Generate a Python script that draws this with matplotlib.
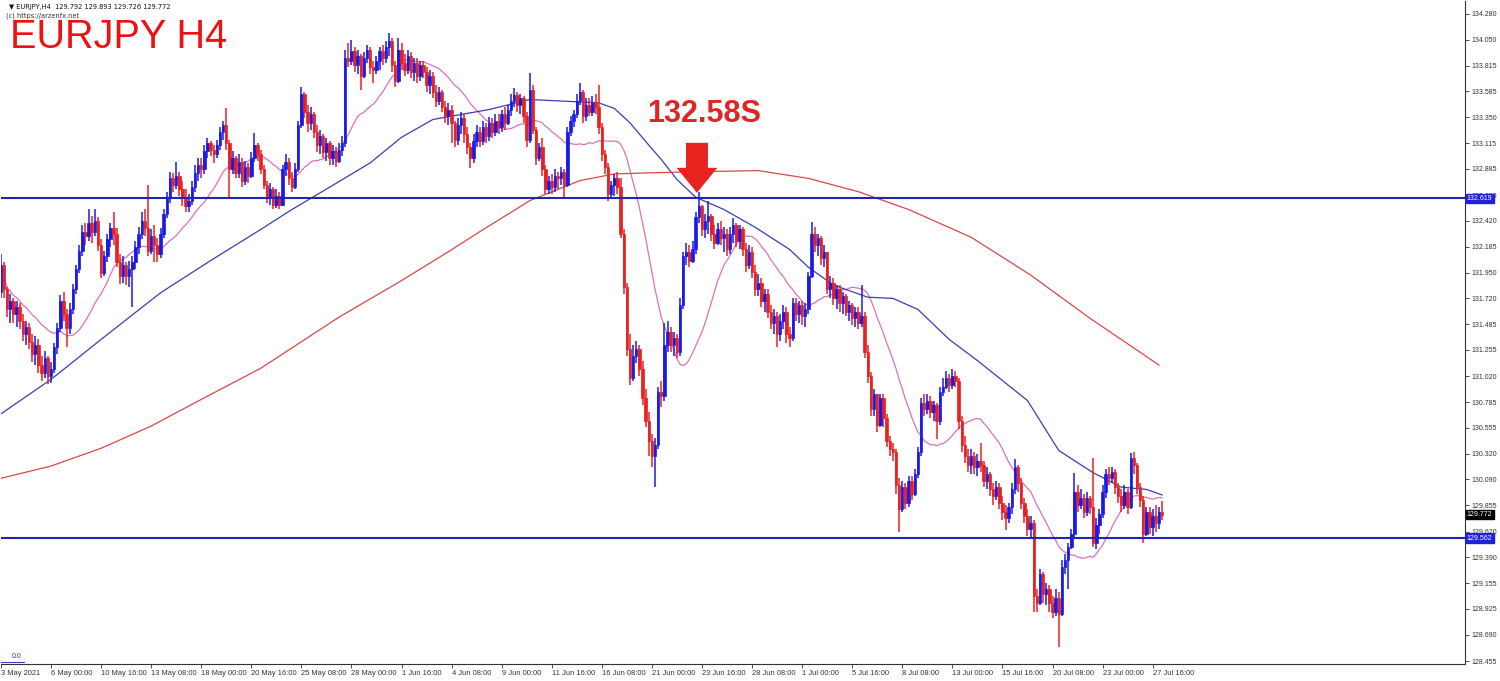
import numpy as np
import pandas as pd
import matplotlib
matplotlib.use("Agg")
import matplotlib.pyplot as plt
from matplotlib.transforms import blended_transform_factory
from matplotlib.patches import FancyArrow

# ---------------- EURJPY H4 price data (3 May 08:00 .. 28 Jul 2021) ----------------
first_open = 131.78
closes = [
 132.02,131.80,131.62,131.70,131.58,131.64,131.52,131.40,131.46,131.33,
 131.22,131.30,131.12,131.05,131.18,131.02,131.08,131.28,131.45,131.70,
 131.58,131.45,131.62,131.80,131.98,132.15,132.32,132.28,132.40,132.32,
 132.42,132.20,131.95,132.10,132.25,132.35,132.30,132.05,131.92,132.02,
 131.92,131.98,132.05,132.18,132.30,132.42,132.35,132.15,132.28,132.20,
 132.12,132.30,132.48,132.62,132.80,132.74,132.82,132.70,132.62,132.55,
 132.60,132.72,132.85,132.92,132.88,133.05,133.12,133.06,133.02,133.10,
 133.22,133.28,133.12,132.88,132.98,132.85,132.95,132.78,132.90,132.82,
 132.98,133.10,133.02,132.88,132.74,132.62,132.70,132.56,132.64,132.56,
 132.88,132.95,132.80,132.72,132.88,133.28,133.56,133.40,133.30,133.38,
 133.22,133.10,133.18,133.04,133.12,132.98,133.05,132.96,133.06,133.12,
 133.88,133.86,133.95,133.82,133.90,133.72,133.88,133.96,133.80,133.78,
 133.86,133.95,133.88,133.98,134.04,133.82,133.68,133.96,133.84,133.78,
 133.90,133.76,133.84,133.72,133.82,133.76,133.64,133.72,133.58,133.50,
 133.58,133.44,133.36,133.42,133.30,133.15,133.28,133.34,133.20,133.08,
 132.98,133.14,133.22,133.14,133.26,133.18,133.30,133.22,133.32,133.26,
 133.38,133.30,133.42,133.50,133.55,133.46,133.52,133.36,133.15,133.60,
 133.24,132.98,133.08,132.88,132.70,132.78,132.72,132.82,132.80,132.86,
 132.74,133.22,133.32,133.38,133.50,133.58,133.36,133.46,133.40,133.48,
 133.44,133.26,133.02,132.90,132.66,132.74,132.80,132.72,132.30,131.82,
 131.26,131.00,131.20,131.26,131.08,130.82,130.62,130.44,130.30,130.40,
 130.88,130.84,131.30,131.42,131.30,131.36,131.24,131.66,132.10,132.14,
 132.06,132.16,132.45,132.55,132.34,132.42,132.46,132.30,132.22,132.34,
 132.26,132.30,132.16,132.30,132.38,132.24,132.34,132.16,132.02,132.14,
 131.96,131.80,131.86,131.70,131.76,131.60,131.50,131.56,131.40,131.52,
 131.60,131.40,131.36,131.68,131.58,131.66,131.56,131.62,131.92,132.30,
 132.20,132.26,132.08,132.14,131.80,131.86,131.72,131.80,131.68,131.74,
 131.60,131.66,131.54,131.60,131.50,131.56,131.24,131.02,130.72,130.86,
 130.58,130.82,130.64,130.44,130.36,130.34,130.04,129.82,130.02,129.88,
 130.08,129.96,130.14,130.34,130.78,130.72,130.80,130.70,130.76,130.62,
 130.88,130.92,131.00,130.94,131.02,130.98,130.62,130.40,130.30,130.22,
 130.30,130.20,130.26,130.22,130.08,130.14,130.00,129.94,130.02,129.88,
 129.80,129.74,129.84,130.00,130.20,130.06,129.88,129.76,129.64,129.70,
 129.04,128.98,129.24,129.06,129.10,128.98,128.90,129.02,128.88,129.30,
 129.36,129.48,129.60,129.98,129.86,129.92,129.80,129.92,129.84,129.52,
 129.68,129.78,129.98,130.14,130.10,130.16,130.02,129.94,129.86,129.98,
 129.84,130.28,130.22,130.02,129.90,129.60,129.80,129.66,129.76,129.70,
 129.792,129.772,
]
highs = [
 132.12,132.05,131.82,131.76,131.72,131.70,131.68,131.58,131.52,131.50,
 131.40,131.38,131.35,131.20,131.25,131.20,131.15,131.32,131.50,131.75,
 131.78,131.62,131.68,131.85,132.02,132.20,132.38,132.40,132.52,132.46,
 132.52,132.45,132.25,132.15,132.30,132.40,132.50,132.35,132.12,132.10,
 132.05,132.06,132.10,132.24,132.36,132.50,132.52,132.74,132.34,132.38,
 132.26,132.35,132.52,132.68,132.86,132.85,132.95,132.86,132.78,132.70,
 132.66,132.78,132.92,132.98,132.98,133.10,133.16,133.14,133.10,133.15,
 133.26,133.32,133.43,133.15,133.05,133.00,133.02,132.98,132.96,132.94,
 133.04,133.21,133.12,133.06,132.92,132.78,132.76,132.72,132.70,132.68,
 132.92,133.02,132.98,132.86,132.94,133.32,133.62,133.58,133.46,133.44,
 133.40,133.28,133.24,133.20,133.16,133.14,133.10,133.08,133.12,133.18,
 133.96,134.02,134.05,133.98,133.96,133.92,133.94,134.00,133.98,133.86,
 133.90,133.98,134.00,134.04,134.11,134.06,133.86,134.06,134.02,133.92,
 133.96,133.94,133.88,133.88,133.86,133.86,133.80,133.78,133.76,133.64,
 133.62,133.60,133.50,133.48,133.46,133.32,133.34,133.40,133.38,133.26,
 133.12,133.20,133.28,133.26,133.32,133.30,133.35,133.34,133.38,133.38,
 133.42,133.44,133.46,133.56,133.61,133.58,133.56,133.54,133.40,133.75,
 133.64,133.26,133.12,133.16,132.92,132.82,132.84,132.88,132.86,132.90,
 132.88,133.26,133.36,133.42,133.56,133.66,133.60,133.52,133.52,133.54,
 133.56,133.64,133.30,133.06,132.94,132.78,132.84,132.86,132.80,132.34,
 131.86,131.40,131.30,131.34,131.30,131.16,130.90,130.70,130.50,130.46,
 130.92,130.98,131.50,131.52,131.46,131.42,131.40,131.72,132.14,132.22,
 132.20,132.24,132.50,132.68,132.56,132.48,132.60,132.48,132.38,132.40,
 132.42,132.36,132.34,132.36,132.44,132.40,132.38,132.36,132.22,132.20,
 132.18,132.02,131.94,131.90,131.80,131.80,131.66,131.62,131.60,131.58,
 131.66,131.64,131.46,131.72,131.72,131.70,131.70,131.68,131.96,132.41,
 132.36,132.30,132.28,132.20,132.12,131.92,131.90,131.84,131.84,131.78,
 131.76,131.70,131.68,131.64,131.64,131.84,131.60,131.30,131.06,130.90,
 130.86,130.86,130.86,130.68,130.48,130.42,130.36,130.10,130.08,130.06,
 130.12,130.12,130.18,130.38,130.82,130.86,130.86,130.84,130.80,130.78,
 130.92,131.00,131.07,131.04,131.08,131.07,131.00,130.66,130.48,130.36,
 130.36,130.34,130.32,130.42,130.26,130.20,130.16,130.06,130.08,130.06,
 129.94,129.86,129.88,130.06,130.27,130.22,130.10,129.92,129.82,129.76,
 129.72,129.10,129.28,129.26,129.16,129.14,129.04,129.10,129.08,129.36,
 129.42,129.52,129.64,130.15,130.04,130.00,129.96,129.98,129.94,130.28,
 129.74,129.82,130.04,130.18,130.20,130.20,130.18,130.06,130.00,130.04,
 130.00,130.33,130.34,130.24,130.06,129.94,129.84,129.84,129.82,129.86,
 129.84,129.893,
]
lows = [
 131.72,131.72,131.55,131.50,131.50,131.46,131.44,131.34,131.30,131.26,
 131.15,131.12,131.05,130.98,131.00,130.95,130.96,131.05,131.22,131.42,
 131.52,131.28,131.40,131.58,131.76,131.95,132.10,132.20,132.24,132.22,
 132.28,132.15,131.90,131.92,132.05,132.18,132.20,132.00,131.85,131.86,
 131.84,131.82,131.64,131.98,132.12,132.25,132.28,132.10,132.12,132.05,
 132.05,132.08,132.26,132.44,132.58,132.68,132.70,132.64,132.55,132.50,
 132.50,132.56,132.68,132.78,132.80,132.84,132.98,133.00,132.94,132.98,
 133.06,133.15,133.06,132.62,132.84,132.80,132.80,132.72,132.74,132.76,
 132.80,132.95,132.96,132.84,132.70,132.58,132.56,132.52,132.53,132.52,
 132.55,132.82,132.74,132.68,132.70,132.86,133.25,133.34,133.22,133.24,
 133.16,133.04,133.02,132.98,132.96,132.92,132.92,132.90,132.94,133.00,
 133.08,133.80,133.82,133.76,133.74,133.60,133.70,133.84,133.74,133.66,
 133.74,133.78,133.82,133.84,133.90,133.76,133.62,133.66,133.78,133.72,
 133.74,133.70,133.68,133.66,133.68,133.70,133.58,133.56,133.52,133.44,
 133.46,133.40,133.30,133.28,133.12,133.08,133.10,133.20,133.12,133.02,
 132.89,132.94,133.08,133.08,133.10,133.12,133.14,133.16,133.18,133.20,
 133.22,133.24,133.28,133.36,133.44,133.40,133.38,133.30,133.08,133.12,
 133.20,132.92,132.96,132.82,132.66,132.66,132.66,132.68,132.70,132.74,
 132.62,132.72,133.18,133.26,133.34,133.46,133.30,133.32,133.36,133.36,
 133.38,133.20,132.96,132.84,132.60,132.62,132.64,132.66,132.26,131.76,
 131.20,130.94,130.98,131.14,131.02,130.76,130.56,130.30,130.20,130.02,
 130.36,130.74,130.80,131.24,131.24,131.20,131.18,131.20,131.62,132.02,
 132.00,132.04,132.12,132.40,132.28,132.26,132.30,132.24,132.16,132.20,
 132.20,132.14,132.10,132.12,132.22,132.18,132.16,132.10,131.96,131.98,
 131.90,131.74,131.74,131.64,131.60,131.54,131.44,131.40,131.28,131.34,
 131.44,131.32,131.28,131.34,131.52,131.50,131.48,131.46,131.58,131.90,
 132.14,132.10,132.02,132.00,131.76,131.72,131.66,131.62,131.60,131.58,
 131.56,131.52,131.48,131.46,131.44,131.46,131.18,130.96,130.66,130.66,
 130.52,130.56,130.56,130.38,130.30,130.26,129.96,129.62,129.80,129.82,
 129.84,129.90,129.94,130.10,130.30,130.66,130.68,130.64,130.62,130.45,
 130.58,130.84,130.90,130.88,130.90,130.92,130.54,130.34,130.24,130.16,
 130.14,130.14,130.12,130.16,130.02,130.00,129.94,129.86,129.90,129.82,
 129.72,129.63,129.70,129.78,129.96,129.98,129.82,129.70,129.58,129.56,
 128.90,128.90,128.96,128.98,128.96,128.90,128.84,128.86,128.58,128.86,
 129.24,129.10,129.46,129.56,129.80,129.82,129.74,129.76,129.78,129.48,
 129.46,129.60,129.74,129.92,130.04,130.06,129.96,129.88,129.80,129.82,
 129.78,129.82,130.14,129.96,129.84,129.52,129.58,129.60,129.58,129.62,
 129.64,129.726,
]

# Moving averages read at selected bars
ma_fast_period = 20
ma_mid_bars = [0, 16, 32, 51, 67, 83, 93, 105, 118, 128, 138, 156, 169, 191, 196,
               201, 207, 211, 216, 222, 231, 241, 252, 258, 266, 277, 285, 293,
               303, 312, 328, 338, 349, 358, 366, 371]
ma_mid_vals = [130.68, 130.99, 131.35, 131.77, 132.06, 132.34, 132.52, 132.72,
               132.94, 133.17, 133.33, 133.42, 133.51, 133.48, 133.43, 133.30,
               133.10, 132.97, 132.79, 132.63, 132.52, 132.36, 132.16, 132.00,
               131.84, 131.73, 131.72, 131.62, 131.35, 131.16, 130.80, 130.35,
               130.15, 130.02, 130.00, 129.95]
ma_slow_bars = [0, 16, 32, 48, 64, 83, 108, 128, 143, 153, 169, 185, 196, 207,
                223, 242, 258, 274, 290, 310, 329, 348, 370]
ma_slow_vals = [130.10, 130.21, 130.37, 130.57, 130.81, 131.09, 131.55, 131.88,
                132.14, 132.32, 132.60, 132.78, 132.84, 132.85, 132.86, 132.87,
                132.80, 132.68, 132.52, 132.27, 131.93, 131.54, 131.12]

resistance = 132.619
support = 129.562
last_price = 129.772

price_ticks = [134.280, 134.050, 133.815, 133.585, 133.350, 133.115, 132.885,
               132.650, 132.420, 132.185, 131.950, 131.720, 131.485, 131.255,
               131.020, 130.785, 130.555, 130.320, 130.090, 129.855, 129.620,
               129.390, 129.155, 128.925, 128.690, 128.455]
time_tick_bars = list(range(0, 369, 16))
time_tick_labels = ["3 May 2021", "6 May 00:00", "10 May 16:00", "13 May 08:00",
                    "18 May 00:00", "20 May 16:00", "25 May 08:00", "28 May 00:00",
                    "1 Jun 16:00", "4 Jun 08:00", "9 Jun 00:00", "11 Jun 16:00",
                    "16 Jun 08:00", "21 Jun 00:00", "23 Jun 16:00", "28 Jun 08:00",
                    "1 Jul 00:00", "5 Jul 16:00", "8 Jul 08:00", "13 Jul 00:00",
                    "15 Jul 16:00", "20 Jul 08:00", "23 Jul 00:00", "27 Jul 16:00"]

# ---------------- drawing ----------------
BULL = "#1a1ae8"
BEAR = "#e82020"
LEVEL = "#2323b8"
FONT = "Liberation Sans"

c = np.array(closes)
o = np.r_[first_open, c[:-1]]
h = np.maximum(np.array(highs), np.maximum(o, c))
l = np.minimum(np.array(lows), np.minimum(o, c))
idx = np.arange(len(c))
up = c >= o

fig = plt.figure(figsize=(15, 6.81), dpi=100)
ax = fig.add_axes([0.6 / 1500, 17 / 681, (1465 - 0.6) / 1500, (664 - 1) / 681])
ax.set_xlim(-0.1, 467.8)
ax.set_ylim(128.428, 134.397)

# moving averages
fast = pd.Series(c).rolling(ma_fast_period, min_periods=1).mean()
ax.plot(idx, fast, color="#e070b8", lw=0.9, zorder=3)
ax.plot(ma_mid_bars, ma_mid_vals, color="#3c3cb4", lw=0.9, zorder=3)
ax.plot(ma_slow_bars, ma_slow_vals, color="#d84848", lw=0.9, zorder=3)

# candles
colors = np.where(up, BULL, BEAR)
ax.vlines(idx, l, h, colors=colors, lw=1.1, zorder=4)
body = np.maximum(np.abs(c - o), 0.008)
ax.bar(idx, body, bottom=np.minimum(o, c), width=0.78, color=colors,
       edgecolor=colors, linewidth=0.5, zorder=5)

# levels
ax.axhline(resistance, color=LEVEL, lw=1.5, zorder=6)
ax.axhline(support, color=LEVEL, lw=1.5, zorder=6)

# annotation: arrow and level
tip_bar = 222.4
ax.add_patch(FancyArrow(tip_bar, 133.12, 0, 132.67 - 133.12,
                        width=7.0, head_width=13.0, head_length=0.225,
                        length_includes_head=True, color="#e8231f", zorder=8,
                        lw=0))
ax.text(206.5, 133.38, "132.58S", color="#e02525", fontsize=22, fontweight="bold",
        family=FONT, ha="left", va="center", zorder=8)

# headings
ax.text(0.0055, 0.996, "\u25bc EURJPY,H4  129.792 129.893 129.726 129.772",
        transform=ax.transAxes, fontsize=4.8, family="DejaVu Sans", va="top",
        ha="left", color="#111111")
ax.text(0.0035, 0.983, "(c) https://arzenfx.net", transform=ax.transAxes,
        fontsize=4.8, family="DejaVu Sans", va="top", ha="left", color="#333333")
ax.text(2.9, 133.975, "EURJPY H4", fontsize=28.5, family=FONT, va="baseline",
        ha="left", color="#ee1111")
ax.text(3.5, 128.50, "0.0", fontsize=5, color="#2a2ad0", family=FONT, va="center")
ax.plot([-0.1, 7.5], [128.442, 128.442], color="#3a3ad0", lw=0.8, clip_on=False)

# axes styling
for side in ["top", "left"]:
    ax.spines[side].set_visible(False)
for side in ["right", "bottom"]:
    ax.spines[side].set_color("#333333")
    ax.spines[side].set_linewidth(0.8)

ax.yaxis.tick_right()
ax.set_yticks(price_ticks)
ax.set_yticklabels([f"{v:.3f}" for v in price_ticks])
ax.tick_params(axis="y", direction="out", length=3, width=0.6, pad=2,
               labelsize=5, colors="#333333")
ax.set_xticks(time_tick_bars)
ax.set_xticklabels(time_tick_labels)
ax.tick_params(axis="x", direction="out", length=3, width=0.6, pad=1.5,
               labelsize=5.4, colors="#333333")
for t in ax.get_xticklabels():
    t.set_horizontalalignment("left")
for t in ax.get_xticklabels() + ax.get_yticklabels():
    t.set_family(FONT)

# price tags on the scale
tr = blended_transform_factory(ax.transAxes, ax.transData)
for val, bg in [(resistance, "#2020d8"), (support, "#2020d8"), (last_price, "#000000")]:
    ax.text(1.0012, val, f"{val:.3f}", transform=tr, fontsize=5, family=FONT,
            color="white", ha="left", va="center", zorder=10, clip_on=False,
            bbox=dict(boxstyle="square,pad=0.18", fc=bg, ec=bg))

fig.savefig("out.png", dpi=100, facecolor="white")
